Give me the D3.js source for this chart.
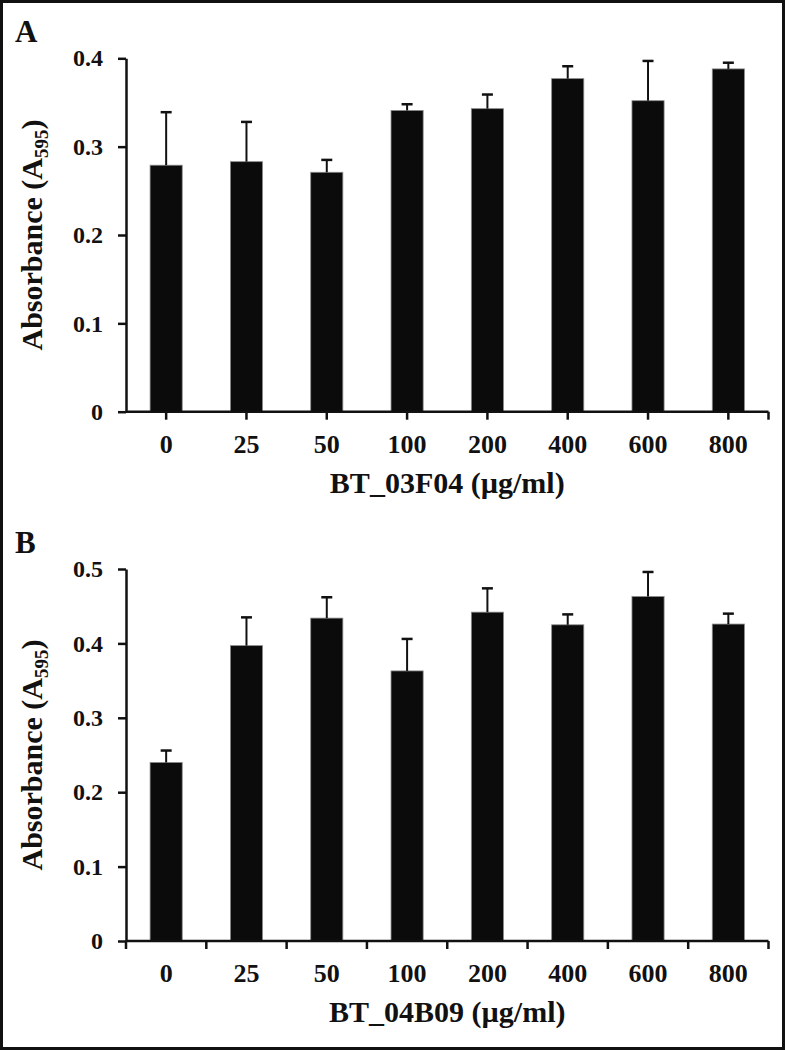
<!DOCTYPE html>
<html>
<head>
<meta charset="utf-8">
<script src="https://cdn.jsdelivr.net/npm/d3@7"></script>
<style>
  html, body { margin: 0; padding: 0; background: #fff; }
  svg { display: block; }
  text { font-family: "Times New Roman", Times, "Liberation Serif", "Nimbus Roman", Tinos, serif; font-weight: bold; fill: #111; }
</style>
</head>
<body>
<svg id="chart" width="785" height="1050"></svg>
<script>
// ---- data ----
const categories = ["0", "25", "50", "100", "200", "400", "600", "800"];

const meansA = [0.279, 0.283, 0.271, 0.341, 0.343, 0.377, 0.352, 0.388];
const errorsA = [0.060, 0.045, 0.014, 0.007, 0.016, 0.014, 0.045, 0.007];
const yTicksA = [0, 0.1, 0.2, 0.3, 0.4];
const xTitleA = "BT_03F04 (µg/ml)";

const meansB = [0.240, 0.397, 0.434, 0.363, 0.442, 0.425, 0.463, 0.426];
const errorsB = [0.016, 0.038, 0.028, 0.043, 0.032, 0.014, 0.033, 0.014];
const yTicksB = [0, 0.1, 0.2, 0.3, 0.4, 0.5];
const xTitleB = "BT_04B09 (µg/ml)";

const svg = d3.select("#chart");

// outer frame
svg.append("rect")
  .attr("x", 1.5).attr("y", 1.5)
  .attr("width", 782).attr("height", 1047)
  .attr("fill", "none").attr("stroke", "#111").attr("stroke-width", 3);

function fmt(v) { return v === 0 ? "0" : d3.format(".1f")(v); }

function panel(opts) {
  const { letter, letterY, means, errors, yTicks, yMax, top, bottom, xTitle, tickMode } = opts;
  const left = 126, right = 768.5;
  const g = svg.append("g");

  const x = d3.scaleBand().domain(categories).range([left, right])
    .paddingInner(0.6).paddingOuter(0.3);
  const y = d3.scaleLinear().domain([0, yMax]).range([bottom, top]);

  // panel letter
  g.append("text").attr("x", 15).attr("y", letterY)
    .attr("font-size", 31).text(letter);

  // bars
  g.selectAll("rect.bar").data(means).join("rect")
    .attr("class", "bar")
    .attr("x", (d, i) => x(categories[i]))
    .attr("y", d => y(d))
    .attr("width", x.bandwidth())
    .attr("height", d => y(0) - y(d))
    .attr("fill", "#0b0b0b")
    .attr("stroke", "#8a8a8a").attr("stroke-width", 0.8);

  // error bars (upper only)
  const cx = i => x(categories[i]) + x.bandwidth() / 2;
  g.selectAll("line.err").data(means).join("line")
    .attr("class", "err")
    .attr("x1", (d, i) => cx(i)).attr("x2", (d, i) => cx(i))
    .attr("y1", d => y(d)).attr("y2", (d, i) => y(d + errors[i]))
    .attr("stroke", "#111").attr("stroke-width", 2);
  g.selectAll("line.cap").data(means).join("line")
    .attr("class", "cap")
    .attr("x1", (d, i) => cx(i) - 5.5).attr("x2", (d, i) => cx(i) + 5.5)
    .attr("y1", (d, i) => y(d + errors[i])).attr("y2", (d, i) => y(d + errors[i]))
    .attr("stroke", "#111").attr("stroke-width", 2.5);

  // y axis
  const yAxis = d3.axisLeft(y).tickValues(yTicks).tickFormat(fmt)
    .tickSize(8).tickSizeOuter(0).tickPadding(15);
  const ya = g.append("g").attr("transform", `translate(${left},0)`).call(yAxis);
  ya.attr("font-family", null).attr("font-size", null);
  ya.select(".domain").attr("stroke", "#111").attr("stroke-width", 2.5);
  ya.selectAll(".tick line").attr("stroke", "#111").attr("stroke-width", 2.5);
  ya.selectAll(".tick text").attr("font-size", 24).attr("fill", "#111");

  // x axis line
  g.append("line").attr("x1", left).attr("x2", right)
    .attr("y1", y(0)).attr("y2", y(0))
    .attr("stroke", "#111").attr("stroke-width", 2.5);

  // x tick marks
  let tickXs;
  if (tickMode === "center") {
    tickXs = categories.map((c, i) => cx(i)).concat([right]);
  } else {
    tickXs = [left].concat(categories.map(c => x(c) - x.step() * x.paddingInner() / 2 + x.step()));
  }
  g.selectAll("line.xt").data(tickXs).join("line")
    .attr("class", "xt")
    .attr("x1", d => d).attr("x2", d => d)
    .attr("y1", y(0)).attr("y2", y(0) + 8)
    .attr("stroke", "#111").attr("stroke-width", 2.5);

  // x tick labels
  g.selectAll("text.xl").data(categories).join("text")
    .attr("class", "xl")
    .attr("x", (d, i) => cx(i)).attr("y", y(0) + 41)
    .attr("text-anchor", "middle").attr("font-size", 26)
    .text(d => d);

  // x title
  g.append("text").attr("x", (left + right) / 2).attr("y", y(0) + 81)
    .attr("text-anchor", "middle").attr("font-size", 30)
    .text(xTitle);

  // y title
  const yt = g.append("text")
    .attr("transform", `translate(42,${(top + bottom) / 2}) rotate(-90)`)
    .attr("text-anchor", "middle").attr("font-size", 30);
  yt.append("tspan").text("Absorbance (A");
  yt.append("tspan").attr("font-size", 19).attr("dy", 6).text("595");
  yt.append("tspan").attr("dy", -6).text(")");
}

panel({ letter: "A", letterY: 42, means: meansA, errors: errorsA, yTicks: yTicksA,
        yMax: 0.4, top: 58.3, bottom: 411.7, xTitle: xTitleA, tickMode: "center" });
panel({ letter: "B", letterY: 553, means: meansB, errors: errorsB, yTicks: yTicksB,
        yMax: 0.5, top: 569, bottom: 941, xTitle: xTitleB, tickMode: "edge" });
</script>
</body>
</html>
